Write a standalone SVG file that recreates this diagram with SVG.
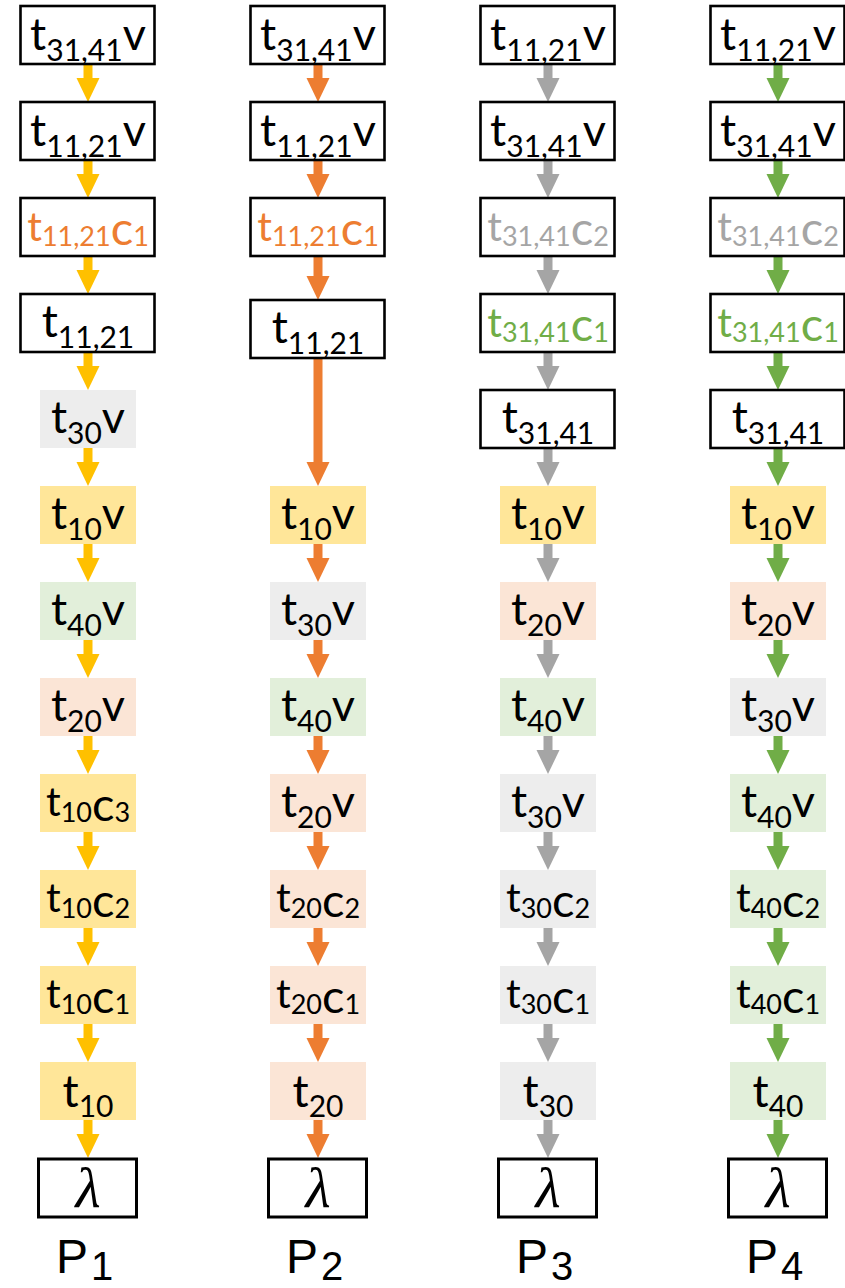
<svg xmlns="http://www.w3.org/2000/svg" width="845" height="1288" viewBox="0 0 845 1288">
  <style>
    .bx { fill: #ffffff; stroke: #000000; stroke-width: 2.6; }
    .lam { fill: #ffffff; stroke: #000000; stroke-width: 3; }
    .fy { fill: #FFE699; }
    .fg { fill: #EDEDED; }
    .fn { fill: #E2EFDA; }
    .fp { fill: #FBE5D6; }
    .t { font-family: Lato, "Liberation Sans", sans-serif; font-size: 45px; fill: #000000; text-anchor: middle; }
    .tc { font-family: Lato, "Liberation Sans", sans-serif; font-size: 41px; fill: #000000; text-anchor: middle; }
    .s { font-size: 30px; }
    .sc { font-size: 27px; }
    .c { font-size: 47px; }
    .or { fill: #ED7D31; }
    .gr { fill: #A5A5A5; }
    .gn { fill: #70AD47; }
    .l { font-family: "Liberation Serif", "DejaVu Serif", serif; font-style: italic; font-size: 58px; fill: #000000; text-anchor: middle; }
    .p { font-family: "Liberation Sans", Arial, sans-serif; font-size: 48px; fill: #000000; }
    .ps { font-size: 40px; }
    .ay { stroke: #FFC000; stroke-width: 9; fill: none; }
    .ao { stroke: #ED7D31; stroke-width: 9; fill: none; }
    .ag { stroke: #A5A5A5; stroke-width: 9; fill: none; }
    .an { stroke: #70AD47; stroke-width: 9; fill: none; }
  </style>
  <defs>
    <marker id="hy" markerUnits="userSpaceOnUse" markerWidth="24" markerHeight="24" viewBox="0 0 24 24" refX="0" refY="12" orient="auto"><path d="M0,0.5 L24,12 L0,23.5 z" fill="#FFC000"/></marker>
    <marker id="ho" markerUnits="userSpaceOnUse" markerWidth="24" markerHeight="24" viewBox="0 0 24 24" refX="0" refY="12" orient="auto"><path d="M0,0.5 L24,12 L0,23.5 z" fill="#ED7D31"/></marker>
    <marker id="hg" markerUnits="userSpaceOnUse" markerWidth="24" markerHeight="24" viewBox="0 0 24 24" refX="0" refY="12" orient="auto"><path d="M0,0.5 L24,12 L0,23.5 z" fill="#A5A5A5"/></marker>
    <marker id="hn" markerUnits="userSpaceOnUse" markerWidth="24" markerHeight="24" viewBox="0 0 24 24" refX="0" refY="12" orient="auto"><path d="M0,0.5 L24,12 L0,23.5 z" fill="#70AD47"/></marker>
  </defs>

  <!-- connectors: each line ends at the arrowhead base, the marker adds the 24px tip -->
  <g id="connectors">
    <g class="ay" marker-end="url(#hy)">
      <line x1="88" y1="64" x2="88" y2="78"/>
      <line x1="88" y1="160" x2="88" y2="174"/>
      <line x1="88" y1="256" x2="88" y2="270"/>
      <line x1="88" y1="352" x2="88" y2="366"/>
      <line x1="88" y1="448" x2="88" y2="462"/>
      <line x1="88" y1="544" x2="88" y2="558"/>
      <line x1="88" y1="640" x2="88" y2="654"/>
      <line x1="88" y1="736" x2="88" y2="750"/>
      <line x1="88" y1="832" x2="88" y2="846"/>
      <line x1="88" y1="928" x2="88" y2="942"/>
      <line x1="88" y1="1024" x2="88" y2="1038"/>
      <line x1="88" y1="1120" x2="88" y2="1134"/>
    </g>
    <g class="ao" marker-end="url(#ho)">
      <line x1="318" y1="64" x2="318" y2="78"/>
      <line x1="318" y1="160" x2="318" y2="174"/>
      <line x1="318" y1="256" x2="318" y2="276"/>
      <line x1="318" y1="358" x2="318" y2="462"/>
      <line x1="318" y1="544" x2="318" y2="558"/>
      <line x1="318" y1="640" x2="318" y2="654"/>
      <line x1="318" y1="736" x2="318" y2="750"/>
      <line x1="318" y1="832" x2="318" y2="846"/>
      <line x1="318" y1="928" x2="318" y2="942"/>
      <line x1="318" y1="1024" x2="318" y2="1038"/>
      <line x1="318" y1="1120" x2="318" y2="1134"/>
    </g>
    <g class="ag" marker-end="url(#hg)">
      <line x1="548" y1="64" x2="548" y2="78"/>
      <line x1="548" y1="160" x2="548" y2="174"/>
      <line x1="548" y1="256" x2="548" y2="270"/>
      <line x1="548" y1="352" x2="548" y2="366"/>
      <line x1="548" y1="448" x2="548" y2="462"/>
      <line x1="548" y1="544" x2="548" y2="558"/>
      <line x1="548" y1="640" x2="548" y2="654"/>
      <line x1="548" y1="736" x2="548" y2="750"/>
      <line x1="548" y1="832" x2="548" y2="846"/>
      <line x1="548" y1="928" x2="548" y2="942"/>
      <line x1="548" y1="1024" x2="548" y2="1038"/>
      <line x1="548" y1="1120" x2="548" y2="1134"/>
    </g>
    <g class="an" marker-end="url(#hn)">
      <line x1="778" y1="64" x2="778" y2="78"/>
      <line x1="778" y1="160" x2="778" y2="174"/>
      <line x1="778" y1="256" x2="778" y2="270"/>
      <line x1="778" y1="352" x2="778" y2="366"/>
      <line x1="778" y1="448" x2="778" y2="462"/>
      <line x1="778" y1="544" x2="778" y2="558"/>
      <line x1="778" y1="640" x2="778" y2="654"/>
      <line x1="778" y1="736" x2="778" y2="750"/>
      <line x1="778" y1="832" x2="778" y2="846"/>
      <line x1="778" y1="928" x2="778" y2="942"/>
      <line x1="778" y1="1024" x2="778" y2="1038"/>
      <line x1="778" y1="1120" x2="778" y2="1134"/>
    </g>
  </g>

  <!-- P1 -->
  <g id="p1">
    <g id="p1-n0"><rect class="bx" x="20.5" y="6" width="134" height="58"/><text class="t" x="88" y="50">t<tspan class="s" dy="11">31,41</tspan><tspan dy="-11">v</tspan></text></g>
    <g id="p1-n1"><rect class="bx" x="20.5" y="102" width="134" height="58"/><text class="t" x="88" y="146">t<tspan class="s" dy="11">11,21</tspan><tspan dy="-11">v</tspan></text></g>
    <g id="p1-n2"><rect class="bx" x="20.5" y="198" width="134" height="58"/><text class="tc or" x="88" y="241">t<tspan class="sc" dy="5">11,21</tspan><tspan class="c" dy="-1">c</tspan><tspan class="sc" dy="1">1</tspan></text></g>
    <g id="p1-n3"><rect class="bx" x="20.5" y="294" width="134" height="58"/><text class="t" x="88" y="337">t<tspan class="s" dy="11">11,21</tspan></text></g>
    <g id="p1-n4"><rect class="fg" x="40" y="390" width="96" height="58"/><text class="t" x="88" y="433">t<tspan class="s" dy="11">30</tspan><tspan dy="-11">v</tspan></text></g>
    <g id="p1-n5"><rect class="fy" x="40" y="486" width="96" height="58"/><text class="t" x="88" y="529">t<tspan class="s" dy="11">10</tspan><tspan dy="-11">v</tspan></text></g>
    <g id="p1-n6"><rect class="fn" x="40" y="582" width="96" height="58"/><text class="t" x="88" y="625">t<tspan class="s" dy="11">40</tspan><tspan dy="-11">v</tspan></text></g>
    <g id="p1-n7"><rect class="fp" x="40" y="678" width="96" height="58"/><text class="t" x="88" y="721">t<tspan class="s" dy="11">20</tspan><tspan dy="-11">v</tspan></text></g>
    <g id="p1-n8"><rect class="fy" x="40" y="774" width="96" height="58"/><text class="tc" x="88" y="816">t<tspan class="sc" dy="6">10</tspan><tspan class="c" dy="-1">c</tspan><tspan class="sc" dy="1">3</tspan></text></g>
    <g id="p1-n9"><rect class="fy" x="40" y="870" width="96" height="58"/><text class="tc" x="88" y="912">t<tspan class="sc" dy="6">10</tspan><tspan class="c" dy="-1">c</tspan><tspan class="sc" dy="1">2</tspan></text></g>
    <g id="p1-n10"><rect class="fy" x="40" y="966" width="96" height="58"/><text class="tc" x="88" y="1008">t<tspan class="sc" dy="6">10</tspan><tspan class="c" dy="-1">c</tspan><tspan class="sc" dy="1">1</tspan></text></g>
    <g id="p1-n11"><rect class="fy" x="40" y="1062" width="96" height="58"/><text class="t" x="88" y="1107">t<tspan class="s" dy="10">10</tspan></text></g>
    <g id="p1-n12"><rect class="lam" x="38.5" y="1159" width="98" height="58"/><text class="l" x="88" y="1207">λ</text></g>
    <text class="p" x="56" y="1273">P<tspan class="ps" dx="3" dy="7">1</tspan></text>
  </g>

  <!-- P2 -->
  <g id="p2">
    <g id="p2-n0"><rect class="bx" x="250.5" y="6" width="134" height="58"/><text class="t" x="318" y="50">t<tspan class="s" dy="11">31,41</tspan><tspan dy="-11">v</tspan></text></g>
    <g id="p2-n1"><rect class="bx" x="250.5" y="102" width="134" height="58"/><text class="t" x="318" y="146">t<tspan class="s" dy="11">11,21</tspan><tspan dy="-11">v</tspan></text></g>
    <g id="p2-n2"><rect class="bx" x="250.5" y="198" width="134" height="58"/><text class="tc or" x="318" y="241">t<tspan class="sc" dy="5">11,21</tspan><tspan class="c" dy="-1">c</tspan><tspan class="sc" dy="1">1</tspan></text></g>
    <g id="p2-n3"><rect class="bx" x="250.5" y="300" width="134" height="58"/><text class="t" x="318" y="343">t<tspan class="s" dy="11">11,21</tspan></text></g>
    <g id="p2-n5"><rect class="fy" x="270" y="486" width="96" height="58"/><text class="t" x="318" y="529">t<tspan class="s" dy="11">10</tspan><tspan dy="-11">v</tspan></text></g>
    <g id="p2-n6"><rect class="fg" x="270" y="582" width="96" height="58"/><text class="t" x="318" y="625">t<tspan class="s" dy="11">30</tspan><tspan dy="-11">v</tspan></text></g>
    <g id="p2-n7"><rect class="fn" x="270" y="678" width="96" height="58"/><text class="t" x="318" y="721">t<tspan class="s" dy="11">40</tspan><tspan dy="-11">v</tspan></text></g>
    <g id="p2-n8"><rect class="fp" x="270" y="774" width="96" height="58"/><text class="t" x="318" y="817">t<tspan class="s" dy="11">20</tspan><tspan dy="-11">v</tspan></text></g>
    <g id="p2-n9"><rect class="fp" x="270" y="870" width="96" height="58"/><text class="tc" x="318" y="912">t<tspan class="sc" dy="6">20</tspan><tspan class="c" dy="-1">c</tspan><tspan class="sc" dy="1">2</tspan></text></g>
    <g id="p2-n10"><rect class="fp" x="270" y="966" width="96" height="58"/><text class="tc" x="318" y="1008">t<tspan class="sc" dy="6">20</tspan><tspan class="c" dy="-1">c</tspan><tspan class="sc" dy="1">1</tspan></text></g>
    <g id="p2-n11"><rect class="fp" x="270" y="1062" width="96" height="58"/><text class="t" x="318" y="1107">t<tspan class="s" dy="10">20</tspan></text></g>
    <g id="p2-n12"><rect class="lam" x="268.5" y="1159" width="98" height="58"/><text class="l" x="318" y="1207">λ</text></g>
    <text class="p" x="286" y="1273">P<tspan class="ps" dx="3" dy="7">2</tspan></text>
  </g>

  <!-- P3 -->
  <g id="p3">
    <g id="p3-n0"><rect class="bx" x="480.5" y="6" width="134" height="58"/><text class="t" x="548" y="50">t<tspan class="s" dy="11">11,21</tspan><tspan dy="-11">v</tspan></text></g>
    <g id="p3-n1"><rect class="bx" x="480.5" y="102" width="134" height="58"/><text class="t" x="548" y="146">t<tspan class="s" dy="11">31,41</tspan><tspan dy="-11">v</tspan></text></g>
    <g id="p3-n2"><rect class="bx" x="480.5" y="198" width="134" height="58"/><text class="tc gr" x="548" y="241">t<tspan class="sc" dy="5">31,41</tspan><tspan class="c" dy="-1">c</tspan><tspan class="sc" dy="1">2</tspan></text></g>
    <g id="p3-n3"><rect class="bx" x="480.5" y="294" width="134" height="58"/><text class="tc gn" x="548" y="337">t<tspan class="sc" dy="5">31,41</tspan><tspan class="c" dy="-1">c</tspan><tspan class="sc" dy="1">1</tspan></text></g>
    <g id="p3-n4"><rect class="bx" x="480.5" y="390" width="134" height="58"/><text class="t" x="548" y="433">t<tspan class="s" dy="11">31,41</tspan></text></g>
    <g id="p3-n5"><rect class="fy" x="500" y="486" width="96" height="58"/><text class="t" x="548" y="529">t<tspan class="s" dy="11">10</tspan><tspan dy="-11">v</tspan></text></g>
    <g id="p3-n6"><rect class="fp" x="500" y="582" width="96" height="58"/><text class="t" x="548" y="625">t<tspan class="s" dy="11">20</tspan><tspan dy="-11">v</tspan></text></g>
    <g id="p3-n7"><rect class="fn" x="500" y="678" width="96" height="58"/><text class="t" x="548" y="721">t<tspan class="s" dy="11">40</tspan><tspan dy="-11">v</tspan></text></g>
    <g id="p3-n8"><rect class="fg" x="500" y="774" width="96" height="58"/><text class="t" x="548" y="817">t<tspan class="s" dy="11">30</tspan><tspan dy="-11">v</tspan></text></g>
    <g id="p3-n9"><rect class="fg" x="500" y="870" width="96" height="58"/><text class="tc" x="548" y="912">t<tspan class="sc" dy="6">30</tspan><tspan class="c" dy="-1">c</tspan><tspan class="sc" dy="1">2</tspan></text></g>
    <g id="p3-n10"><rect class="fg" x="500" y="966" width="96" height="58"/><text class="tc" x="548" y="1008">t<tspan class="sc" dy="6">30</tspan><tspan class="c" dy="-1">c</tspan><tspan class="sc" dy="1">1</tspan></text></g>
    <g id="p3-n11"><rect class="fg" x="500" y="1062" width="96" height="58"/><text class="t" x="548" y="1107">t<tspan class="s" dy="10">30</tspan></text></g>
    <g id="p3-n12"><rect class="lam" x="498.5" y="1159" width="98" height="58"/><text class="l" x="548" y="1207">λ</text></g>
    <text class="p" x="516" y="1273">P<tspan class="ps" dx="3" dy="7">3</tspan></text>
  </g>

  <!-- P4 -->
  <g id="p4">
    <g id="p4-n0"><rect class="bx" x="710.5" y="6" width="134" height="58"/><text class="t" x="778" y="50">t<tspan class="s" dy="11">11,21</tspan><tspan dy="-11">v</tspan></text></g>
    <g id="p4-n1"><rect class="bx" x="710.5" y="102" width="134" height="58"/><text class="t" x="778" y="146">t<tspan class="s" dy="11">31,41</tspan><tspan dy="-11">v</tspan></text></g>
    <g id="p4-n2"><rect class="bx" x="710.5" y="198" width="134" height="58"/><text class="tc gr" x="778" y="241">t<tspan class="sc" dy="5">31,41</tspan><tspan class="c" dy="-1">c</tspan><tspan class="sc" dy="1">2</tspan></text></g>
    <g id="p4-n3"><rect class="bx" x="710.5" y="294" width="134" height="58"/><text class="tc gn" x="778" y="337">t<tspan class="sc" dy="5">31,41</tspan><tspan class="c" dy="-1">c</tspan><tspan class="sc" dy="1">1</tspan></text></g>
    <g id="p4-n4"><rect class="bx" x="710.5" y="390" width="134" height="58"/><text class="t" x="778" y="433">t<tspan class="s" dy="11">31,41</tspan></text></g>
    <g id="p4-n5"><rect class="fy" x="730" y="486" width="96" height="58"/><text class="t" x="778" y="529">t<tspan class="s" dy="11">10</tspan><tspan dy="-11">v</tspan></text></g>
    <g id="p4-n6"><rect class="fp" x="730" y="582" width="96" height="58"/><text class="t" x="778" y="625">t<tspan class="s" dy="11">20</tspan><tspan dy="-11">v</tspan></text></g>
    <g id="p4-n7"><rect class="fg" x="730" y="678" width="96" height="58"/><text class="t" x="778" y="721">t<tspan class="s" dy="11">30</tspan><tspan dy="-11">v</tspan></text></g>
    <g id="p4-n8"><rect class="fn" x="730" y="774" width="96" height="58"/><text class="t" x="778" y="817">t<tspan class="s" dy="11">40</tspan><tspan dy="-11">v</tspan></text></g>
    <g id="p4-n9"><rect class="fn" x="730" y="870" width="96" height="58"/><text class="tc" x="778" y="912">t<tspan class="sc" dy="6">40</tspan><tspan class="c" dy="-1">c</tspan><tspan class="sc" dy="1">2</tspan></text></g>
    <g id="p4-n10"><rect class="fn" x="730" y="966" width="96" height="58"/><text class="tc" x="778" y="1008">t<tspan class="sc" dy="6">40</tspan><tspan class="c" dy="-1">c</tspan><tspan class="sc" dy="1">1</tspan></text></g>
    <g id="p4-n11"><rect class="fn" x="730" y="1062" width="96" height="58"/><text class="t" x="778" y="1107">t<tspan class="s" dy="10">40</tspan></text></g>
    <g id="p4-n12"><rect class="lam" x="728.5" y="1159" width="98" height="58"/><text class="l" x="778" y="1207">λ</text></g>
    <text class="p" x="746" y="1273">P<tspan class="ps" dx="3" dy="7">4</tspan></text>
  </g>
</svg>
